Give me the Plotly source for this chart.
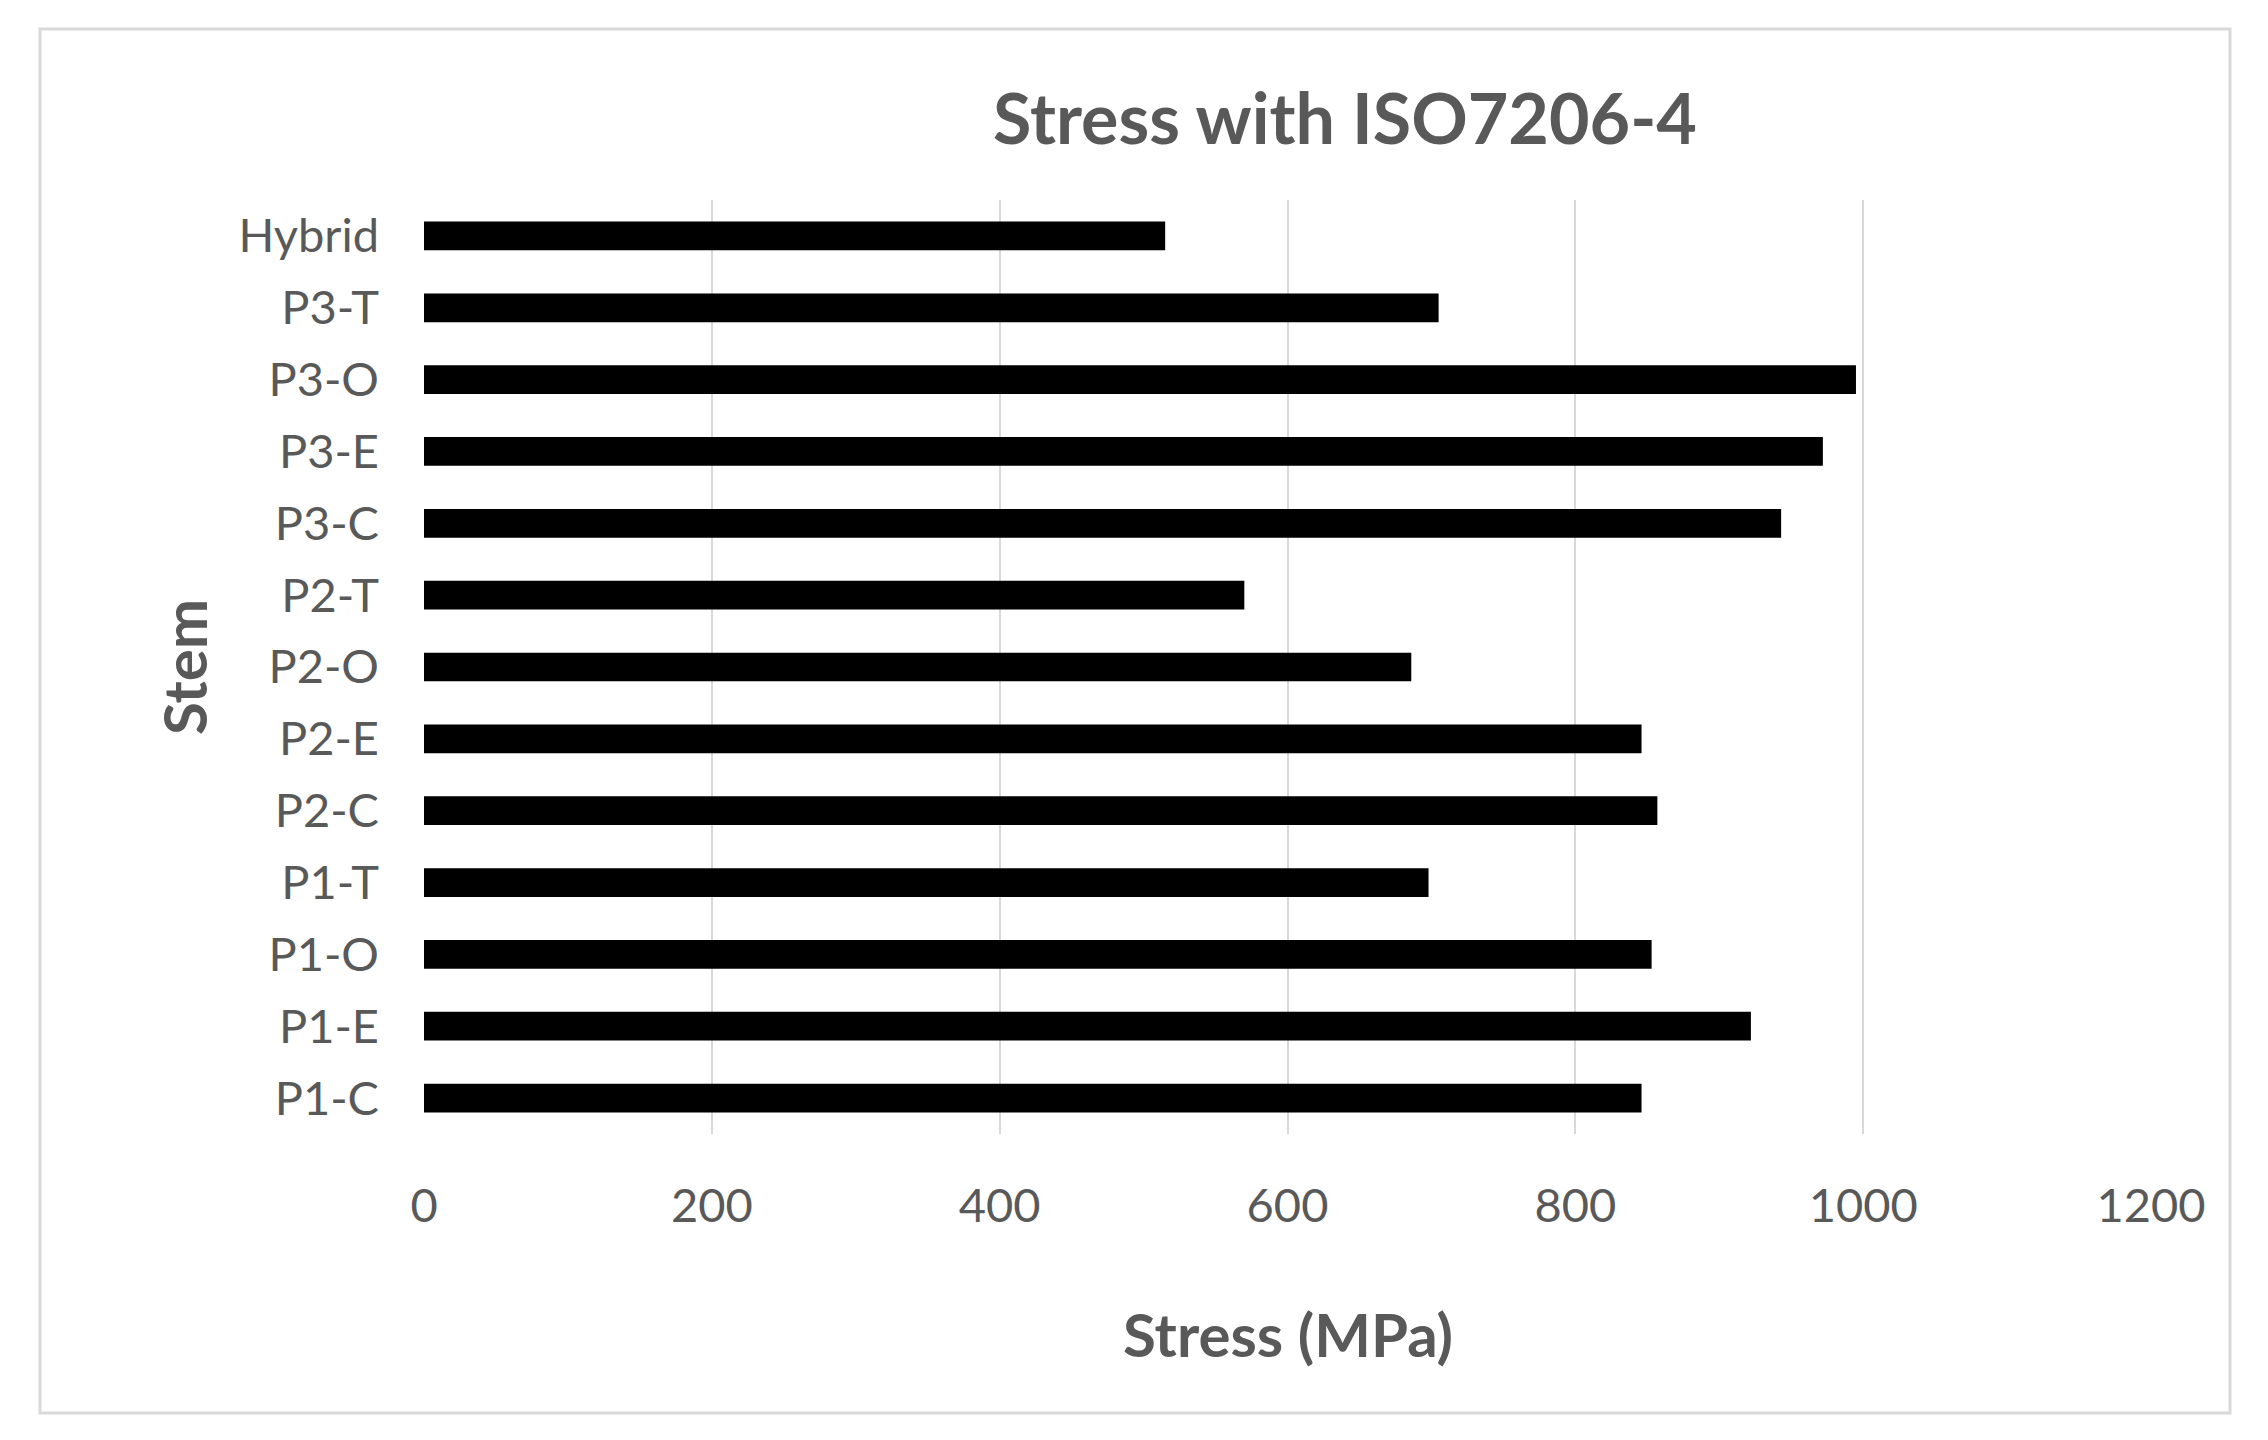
import plotly.graph_objects as go

# data, top to bottom as drawn
stems = ['Hybrid', 'P3-T', 'P3-O', 'P3-E', 'P3-C', 'P2-T', 'P2-O',
         'P2-E', 'P2-C', 'P1-T', 'P1-O', 'P1-E', 'P1-C']
stress = [515, 705, 995, 972, 943, 570, 686, 846, 857, 698, 853, 922, 846]
x_ticks = [0, 200, 400, 600, 800, 1000, 1200]

TEXT_COLOR = '#595959'
GRID_COLOR = '#d9d9d9'
FONT = 'Lato, Open Sans, sans-serif'

# page pixels -> figure pixels (the page body has an 8px margin)
OFF = 8
W, H = 2268, 1440
L, R, T, B = 424 - OFF, 117 + OFF, 200 - OFF, 306 + OFF
pw, ph = W - L - R, H - T - B


def px_x(p):
    return (p - OFF - L) / pw


def px_y(p):
    return (H - B - (p - OFF)) / ph


fig = go.Figure(go.Bar(
    x=stress,
    y=stems,
    orientation='h',
    marker=dict(color='#000000', line=dict(width=0)),
    hovertemplate='%{y}: %{x} MPa<extra></extra>'
))

fig.update_layout(
    width=W, height=H,
    paper_bgcolor='white',
    plot_bgcolor='white',
    font=dict(family=FONT, color=TEXT_COLOR, size=47),
    margin=dict(l=L, r=R, t=T, b=B),
    bargap=0.6,
    showlegend=False,
    title=dict(
        text='<b>Stress with ISO7206-4</b>',
        x=(1345 - OFF) / W, xanchor='center',
        y=1 - (119 - OFF) / H, yanchor='middle',
        font=dict(size=70, color=TEXT_COLOR, family=FONT)
    ),
    xaxis=dict(
        range=[0, 1200],
        tickvals=x_ticks,
        showgrid=True, gridcolor=GRID_COLOR, gridwidth=2,
        zeroline=False, showline=False,
        ticks='', ticklabelstandoff=40,
        tickfont=dict(size=47, color=TEXT_COLOR)
    ),
    yaxis=dict(
        autorange='reversed',
        showgrid=False, zeroline=False, showline=False,
        ticks='', ticklabelstandoff=44,
        tickfont=dict(size=47, color=TEXT_COLOR)
    ),
    annotations=[
        dict(text='<b>Stress (MPa)</b>', xref='paper', yref='paper',
             x=0.5, y=px_y(1334), xanchor='center', yanchor='middle',
             showarrow=False, font=dict(size=60, color=TEXT_COLOR)),
        dict(text='<b>Stem</b>', xref='paper', yref='paper',
             x=px_x(184), y=0.5, xanchor='center', yanchor='middle',
             textangle=-90, showarrow=False,
             font=dict(size=60, color=TEXT_COLOR)),
    ],
    shapes=[
        dict(type='rect', xref='paper', yref='paper',
             x0=px_x(40), x1=px_x(2230), y0=px_y(1413), y1=px_y(29),
             line=dict(color=GRID_COLOR, width=3), layer='below')
    ]
)

fig.write_html('out.html')
